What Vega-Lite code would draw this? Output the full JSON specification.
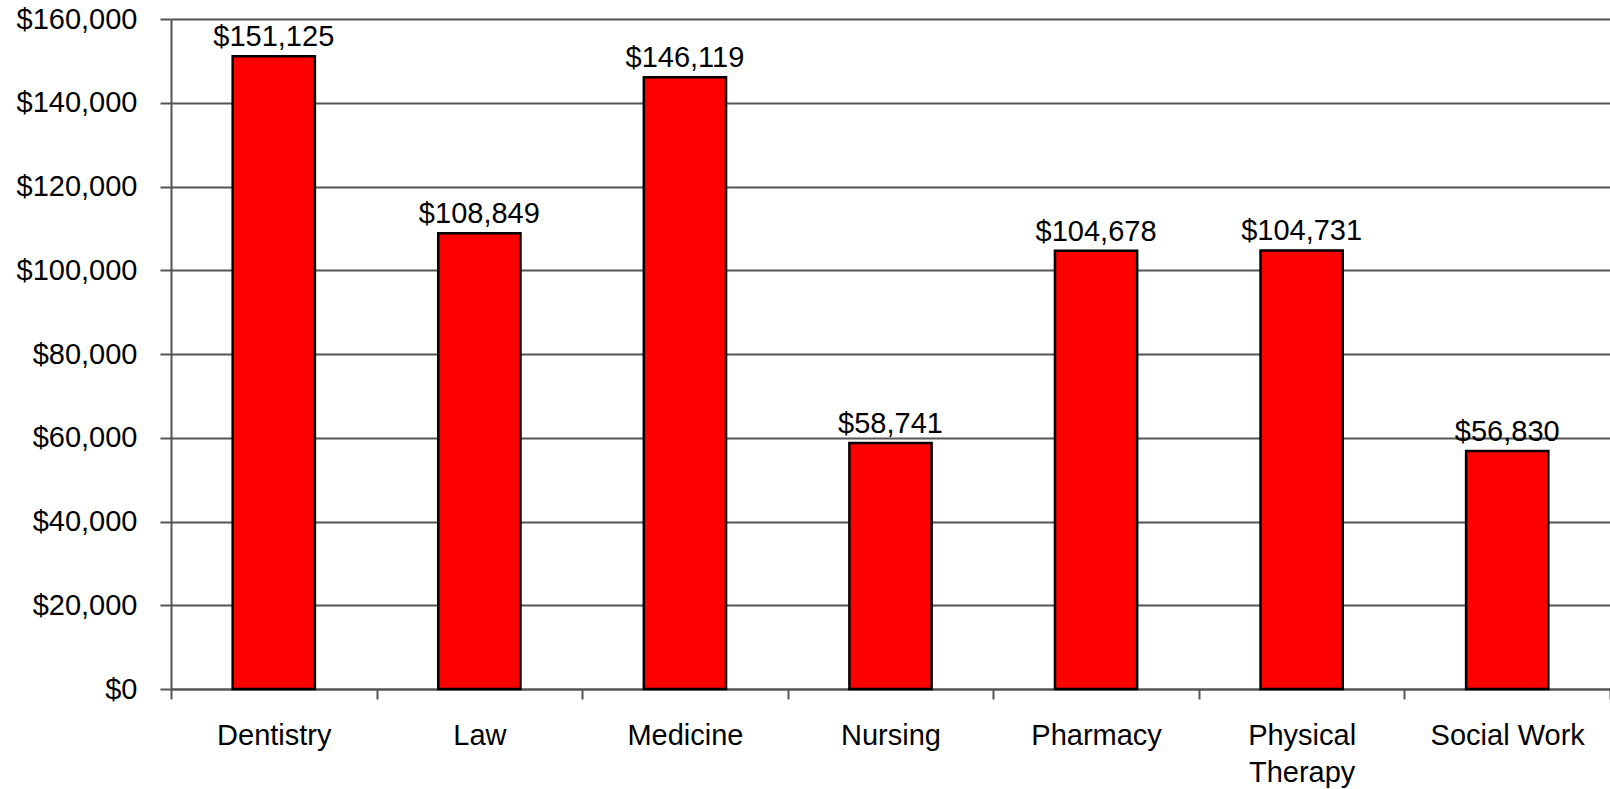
{
  "$schema": "https://vega.github.io/schema/vega-lite/v6.json",
  "width": 1439,
  "height": 670,
  "autosize": {"type": "none"},
  "padding": {"left": 171, "top": 19, "right": 0, "bottom": 100},
  "background": "white",
  "config": {
    "view": {"stroke": null},
    "font": "Liberation Sans",
    "axis": {"labelFont": "Liberation Sans", "labelFontSize": 29, "labelColor": "black", "domainColor": "#555555", "tickColor": "#555555", "domainWidth": 2, "tickWidth": 2, "title": null}
  },
  "data": {
    "values": [
      {"field": "Dentistry", "salary": 151125},
      {"field": "Law", "salary": 108849},
      {"field": "Medicine", "salary": 146119},
      {"field": "Nursing", "salary": 58741},
      {"field": "Pharmacy", "salary": 104678},
      {"field": "Physical Therapy", "salary": 104731},
      {"field": "Social Work", "salary": 56830}
    ]
  },
  "encoding": {
    "x": {
      "field": "field",
      "type": "nominal",
      "sort": null,
      "scale": {"paddingInner": 0, "paddingOuter": 0},
      "axis": {
        "labelAngle": 0,
        "tickBand": "extent",
        "tickSize": 10,
        "labelPadding": 22,
        "labelLineHeight": 37,
        "labelExpr": "datum.label == 'Physical Therapy' ? ['Physical', 'Therapy'] : datum.label",
        "grid": false
      }
    },
    "y": {
      "field": "salary",
      "type": "quantitative",
      "scale": {"domain": [0, 160000], "nice": false},
      "axis": {
        "values": [0, 20000, 40000, 60000, 80000, 100000, 120000, 140000, 160000],
        "format": "$,.0f",
        "grid": true,
        "gridColor": "#555555",
        "gridWidth": 2,
        "tickSize": 11,
        "labelPadding": 23
      }
    }
  },
  "layer": [
    {
      "mark": {"type": "bar", "fill": "#ff0000", "stroke": "black", "strokeWidth": 2.5, "width": {"band": 0.4}}
    },
    {
      "mark": {"type": "text", "baseline": "alphabetic", "dy": -10, "fontSize": 29, "color": "black", "font": "Liberation Sans"},
      "encoding": {
        "text": {"field": "salary", "type": "quantitative", "format": "$,.0f"}
      }
    }
  ]
}
